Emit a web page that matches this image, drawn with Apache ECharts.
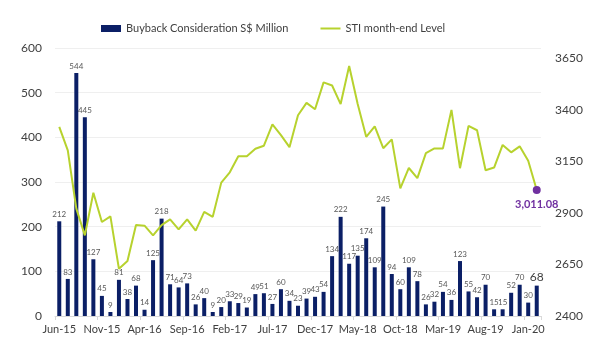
<!DOCTYPE html>
<html><head><meta charset="utf-8">
<script src="https://cdn.jsdelivr.net/npm/echarts@6/dist/echarts.min.js"></script>
<style>html,body{margin:0;padding:0;background:#fff}#c{width:600px;height:360px}</style>
</head><body><div id="c"></div>
<script>
const categories = ['Jun-15','Jul-15','Aug-15','Sep-15','Oct-15','Nov-15','Dec-15',
 'Jan-16','Feb-16','Mar-16','Apr-16','May-16','Jun-16','Jul-16','Aug-16','Sep-16','Oct-16','Nov-16','Dec-16',
 'Jan-17','Feb-17','Mar-17','Apr-17','May-17','Jun-17','Jul-17','Aug-17','Sep-17','Oct-17','Nov-17','Dec-17',
 'Jan-18','Feb-18','Mar-18','Apr-18','May-18','Jun-18','Jul-18','Aug-18','Sep-18','Oct-18','Nov-18','Dec-18',
 'Jan-19','Feb-19','Mar-19','Apr-19','May-19','Jun-19','Jul-19','Aug-19','Sep-19','Oct-19','Nov-19','Dec-19',
 'Jan-20','Feb-20'];
const buyback = [212,83,544,445,127,45,9,
 81,38,68,14,125,218,71,64,73,26,40,9,
 20,33,29,19,49,51,27,60,34,23,39,43,
 54,134,222,117,135,174,109,245,94,60,109,78,
 26,32,54,36,123,55,42,70,15,15,52,70,
 30,68];
const sti = [3317,3203,2921,2791,2998,2856,2883,
 2629,2667,2841,2838,2791,2841,2869,2820,2869,2814,2905,2881,
 3047,3097,3175,3175,3211,3226,3330,3277,3219,3374,3434,3403,
 3533,3518,3428,3613,3428,3269,3320,3214,3257,3019,3118,3069,
 3190,3213,3213,3400,3117,3322,3301,3107,3120,3230,3194,3223,
 3153,3011.08];
const leftTicks = {min:0, max:600, interval:100};
const rightTicks = {min:2400, max:3700, interval:250};
const seriesNames = ['Buyback Consideration S$ Million','STI month-end Level'];

const FONT = 'Lato';
const last = buyback.length - 1;
const barData = buyback.map((v,i)=> i===last ? {value:v,label:{fontSize:12,color:'#404040'}} : v);

const chart = echarts.init(document.getElementById('c'));
chart.setOption({
  animation:false,
  textStyle:{fontFamily:FONT},
  legend:{
    top:23, left:101, padding:0, itemGap:32, itemWidth:20, itemHeight:7,
    textStyle:{fontSize:11, color:'#404040', fontFamily:FONT},
    data:[{name:seriesNames[0], icon:'rect'},
          {name:seriesNames[1], icon:'path://M0,0 L20,0 L20,2 L0,2 Z'}]
  },
  grid:{left:55, right:59, top:48, bottom:44},
  xAxis:{
    type:'category', data:categories, boundaryGap:true,
    axisLine:{lineStyle:{color:'#d9d9d9'}},
    axisTick:{show:true, interval:4, length:4, lineStyle:{color:'#d9d9d9'}},
    axisLabel:{interval:4, fontSize:11, color:'#404040', margin:8, fontFamily:FONT}
  },
  yAxis:[{
    type:'value', min:leftTicks.min, max:leftTicks.max, interval:leftTicks.interval,
    axisLine:{show:false}, axisTick:{show:false},
    axisLabel:{fontSize:12, color:'#404040', margin:13, fontFamily:FONT},
    splitLine:{lineStyle:{color:'#efefef'}}
  },{
    type:'value', min:rightTicks.min, max:rightTicks.max, interval:rightTicks.interval,
    axisLine:{show:false}, axisTick:{show:false}, splitLine:{show:false},
    axisLabel:{fontSize:12, color:'#404040', margin:14, fontFamily:FONT, showMaxLabel:false,
      formatter:v=> v>=rightTicks.max ? '' : String(v)}
  }],
  series:[{
    name:seriesNames[0], type:'bar', data:barData, barWidth:4,
    itemStyle:{color:'#0b1f66'},
    label:{show:true, position:'top', distance:3, fontSize:8, color:'#595959', fontFamily:FONT}
  },{
    name:seriesNames[1], type:'line', yAxisIndex:1, data:sti,
    symbol:'none',
    lineStyle:{color:'#b7d22e', width:2}, itemStyle:{color:'#b7d22e'},
    markPoint:{
      symbol:'circle', symbolSize:8,
      itemStyle:{color:'#7030a0'},
      label:{show:true, position:'bottom', distance:5, color:'#7030a0', fontWeight:'bold', fontSize:11, fontFamily:FONT,
        formatter:p=>Number(p.value).toLocaleString('en-US',{minimumFractionDigits:2})},
      data:[{coord:[categories[last], sti[last]], value:sti[last]}]
    }
  }]
});
</script></body></html>
